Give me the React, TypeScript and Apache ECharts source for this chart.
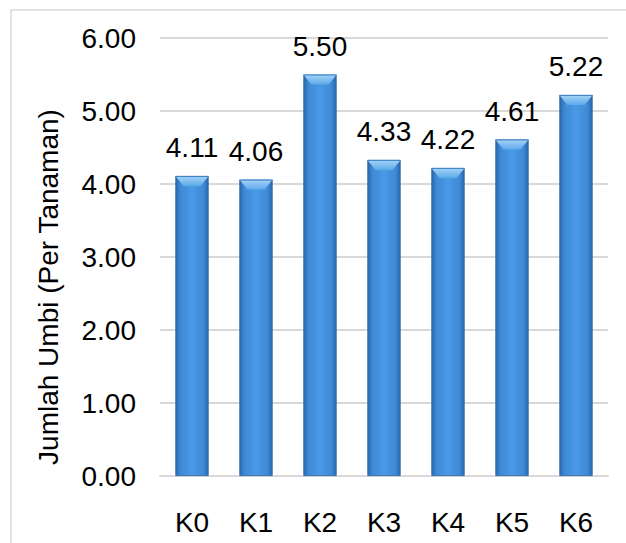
import React, { useEffect, useRef } from "react";
import * as echarts from "echarts";

const categories = ["K0", "K1", "K2", "K3", "K4", "K5", "K6"];
const values = [4.11, 4.06, 5.5, 4.33, 4.22, 4.61, 5.22];
const yTitle = "Jumlah Umbi (Per Tanaman)";

const FONT = "'Liberation Sans', Arial, sans-serif";
const FS = 28;

export default function App() {
  const ref = useRef<HTMLDivElement>(null);

  useEffect(() => {
    if (!ref.current) return;
    const chart = echarts.init(ref.current, undefined, { renderer: "svg" });

    const bodyGradient = new echarts.graphic.LinearGradient(0, 0, 1, 0, [
      { offset: 0, color: "#2c69ad" },
      { offset: 0.15, color: "#3d8ad7" },
      { offset: 0.5, color: "#4a9ae5" },
      { offset: 0.85, color: "#3d8ad7" },
      { offset: 1, color: "#2c69ad" },
    ]);

    chart.setOption({
      animation: false,
      backgroundColor: "#ffffff",
      grid: { left: 160, right: 18, top: 38, bottom: 67 },
      graphic: [
        {
          type: "rect",
          shape: { x: 11, y: 10, width: 700, height: 600 },
          style: { fill: "none", stroke: "#d9d9d9", lineWidth: 1.5 },
          silent: true,
          z: -10,
        },
        {
          type: "text",
          x: 48,
          y: 287,
          rotation: Math.PI / 2,
          style: {
            text: yTitle,
            font: `${FS}px ${FONT}`,
            fill: "#000",
            align: "center",
            verticalAlign: "middle",
          },
        },
      ],
      xAxis: {
        type: "category",
        data: categories,
        axisTick: { show: false },
        axisLine: { lineStyle: { color: "#d9d9d9", width: 2 } },
        axisLabel: { color: "#000", fontSize: FS, fontFamily: FONT, margin: 32 },
      },
      yAxis: {
        type: "value",
        min: 0,
        max: 6,
        interval: 1,
        axisLabel: {
          color: "#000",
          fontSize: FS,
          fontFamily: FONT,
          margin: 24,
          formatter: (v: number) => v.toFixed(2),
        },
        splitLine: { lineStyle: { color: "#d9d9d9", width: 2 } },
        axisLine: { show: false },
        axisTick: { show: false },
      },
      series: [
        {
          type: "bar",
          data: values,
          barWidth: "52%",
          itemStyle: { color: bodyGradient, borderColor: "#2a5f9e", borderWidth: 0.8 },
          label: {
            show: true,
            position: "top",
            distance: 14,
            color: "#000",
            fontSize: FS,
            fontFamily: FONT,
            formatter: (p: any) => Number(p.value).toFixed(2),
          },
        },
        {
          // bevelled cap on top of each bar
          type: "custom",
          data: values.map((v, i) => [i, v]),
          z: 5,
          silent: true,
          renderItem: (params: any, api: any) => {
            const top = api.coord([api.value(0), api.value(1)]);
            const band = api.size([1, 0])[0];
            const w = band * 0.52;
            const x0 = top[0] - w / 2;
            const x1 = top[0] + w / 2;
            const y0 = top[1];
            const h = 10;
            const inset = 8;
            return {
              type: "group",
              children: [
                {
                  type: "polygon",
                  shape: {
                    points: [
                      [x0, y0],
                      [x1, y0],
                      [x1 - inset, y0 + h],
                      [x0 + inset, y0 + h],
                    ],
                  },
                  style: {
                    fill: new echarts.graphic.LinearGradient(0, 0, 0, 1, [
                      { offset: 0, color: "#a6d4f8" },
                      { offset: 1, color: "#5ea9ea" },
                    ]),
                  },
                },
                {
                  type: "line",
                  shape: { x1: x0, y1: y0 + 0.5, x2: x1, y2: y0 + 0.5 },
                  style: { stroke: "#3f7fc4", lineWidth: 1 },
                },
              ],
            };
          },
        },
      ],
    });

    return () => chart.dispose();
  }, []);

  return (
    <div
      ref={ref}
      style={{ position: "fixed", left: 0, top: 0, width: 626, height: 543 }}
    />
  );
}
